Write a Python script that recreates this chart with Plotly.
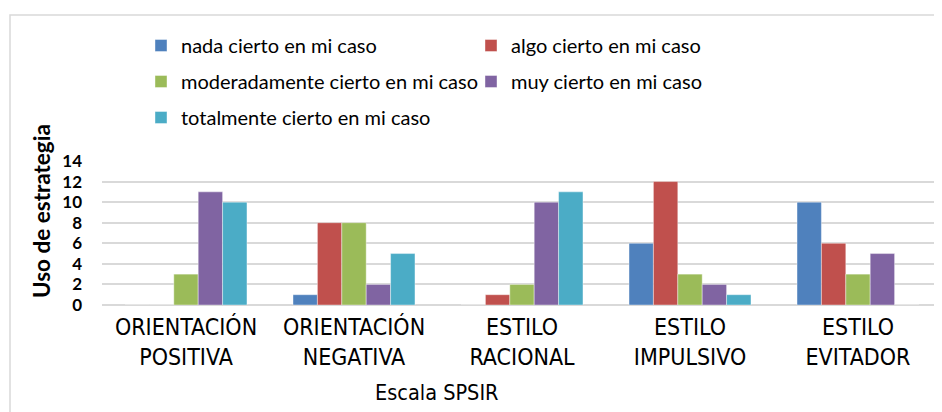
import plotly.graph_objects as go

categories = ["ORIENTACIÓN<br>POSITIVA", "ORIENTACIÓN<br>NEGATIVA", "ESTILO<br>RACIONAL",
              "ESTILO<br>IMPULSIVO", "ESTILO<br>EVITADOR"]
series_names = ["nada cierto en mi caso", "algo cierto en mi caso",
                "moderadamente cierto en mi caso", "muy cierto en mi caso",
                "totalmente cierto en mi caso"]
nada = [0, 1, 0, 6, 10]
algo = [0, 8, 1, 12, 6]
moderadamente = [3, 8, 2, 3, 3]
muy = [11, 2, 10, 2, 5]
totalmente = [10, 5, 11, 1, 0]
y_ticks = [0, 2, 4, 6, 8, 10, 12, 14]

colors = ["#4F81BD", "#C0504D", "#9BBB59", "#8064A2", "#4BACC6"]
values = [nada, algo, moderadamente, muy, totalmente]
legend_ref = ["legend", "legend2", "legend", "legend2", "legend"]

W, H = 942, 412
OFF = 8  # page body margin offset of the plot div
# plot area in screenshot pixels: x 102..942, y 161..305
L = 102 - OFF
T = 161 - OFF
R = W - (942 - OFF)
B = H - (305 - OFF)
pw, ph = W - L - R, H - T - B

def px_x(x):
    return (x - OFF - L) / pw

def px_y(y):
    return (H - B - (y - OFF)) / ph

legend_font = dict(family="Lato, Carlito, Calibri, sans-serif", size=20, color="#000000")
narrow = "DejaVu Sans Condensed, Liberation Sans Narrow, Arial Narrow, Liberation Sans, Arial"

fig = go.Figure()
for name, vals, col, lg in zip(series_names, values, colors, legend_ref):
    fig.add_trace(go.Bar(
        x=categories, y=vals, name=name, legend=lg, legendgroup=name,
        marker=dict(color=col, line=dict(color="rgba(255,255,255,0.5)", width=0.8)),
    ))

fig.update_layout(
    width=W, height=H,
    margin=dict(l=L, r=R, t=T, b=B, pad=0, autoexpand=False),
    paper_bgcolor="white", plot_bgcolor="white",
    barmode="group", bargap=0.274, bargroupgap=0,
    showlegend=True,
    legend=dict(x=px_x(141), y=px_y(26), xanchor="left", yanchor="top",
                orientation="v", font=legend_font, tracegroupgap=7,
                bgcolor="rgba(0,0,0,0)"),
    legend2=dict(x=px_x(471), y=px_y(26), xanchor="left", yanchor="top",
                 orientation="v", font=legend_font, tracegroupgap=7,
                 bgcolor="rgba(0,0,0,0)"),
    xaxis=dict(showgrid=False, showline=False, ticks="",
               tickfont=dict(family=narrow, size=23, color="#000000"),
               ticklabelstandoff=6),
    yaxis=dict(range=[0, 14], tickvals=y_ticks, showgrid=True, gridcolor="#D9D9D9",
               gridwidth=1.5, zeroline=True, zerolinecolor="#D9D9D9", zerolinewidth=1.5,
               showline=False, ticks="", ticklabelstandoff=19,
               tickfont=dict(family="Lato, Carlito, Calibri, sans-serif", size=17,
                             color="#000000", weight="bold")),
    shapes=[dict(type="rect", xref="paper", yref="paper", layer="below",
                 x0=px_x(10), x1=px_x(960), y0=px_y(430), y1=px_y(15),
                 line=dict(color="#D9D9D9", width=1.5), fillcolor="rgba(0,0,0,0)")],
    annotations=[
        dict(text="Uso de estrategia", textangle=-90, xref="paper", yref="paper",
             x=px_x(41), y=px_y(211), xanchor="center", yanchor="middle", showarrow=False,
             font=dict(family="Lato, Carlito, Calibri, sans-serif", size=22.5,
                       color="#000000", weight="bold")),
        dict(text="Escala SPSIR", xref="paper", yref="paper",
             x=px_x(437), y=px_y(392), xanchor="center", yanchor="middle", showarrow=False,
             font=dict(family=narrow, size=21.5, color="#000000")),
    ],
)

fig.write_html("out.html")
